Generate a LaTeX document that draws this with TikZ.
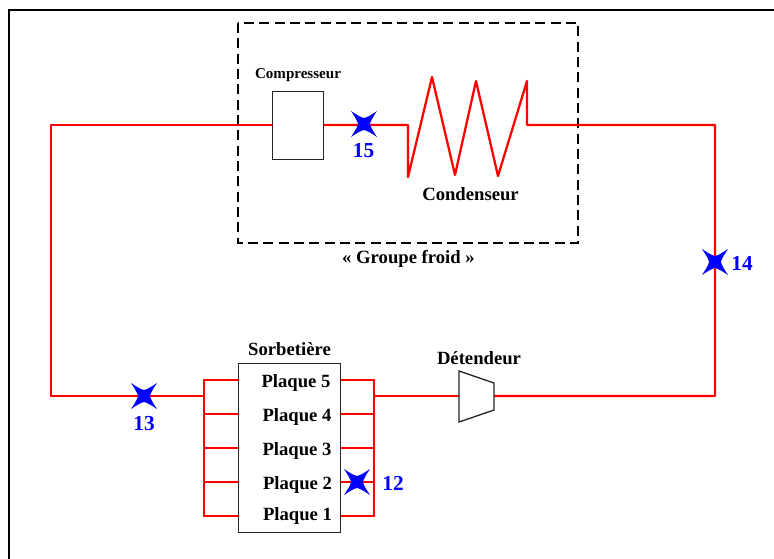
\documentclass[tikz,border=0pt]{standalone}
\usepackage{fontspec}
\setmainfont{Liberation Serif}
\tikzset{
  x=0.75pt,y=-0.75pt,
  wire/.style={draw=red,line width=1.7pt,line join=round,line cap=round},
  part/.style={draw=black!85,line width=1pt,fill=white,inner sep=0pt},
  lab/.style={font=\bfseries\fontsize{14}{16}\selectfont,inner sep=0pt,text=black},
  smalllab/.style={font=\bfseries\fontsize{11.3}{13}\selectfont,inner sep=0pt,text=black},
  num/.style={font=\bfseries\fontsize{16}{18}\selectfont,inner sep=0pt,text=blue},
  pics/xmark/.style={code={
    \fill[blue] (-13,-13) .. controls (-7,-9) and (-3,-6.5) .. (0,-6)
      .. controls (3,-6.5) and (7,-9) .. (13,-13)
      .. controls (9,-7) and (6.5,-3) .. (6,0)
      .. controls (6.5,3) and (9,7) .. (13,13)
      .. controls (7,9) and (3,6.5) .. (0,6)
      .. controls (-3,6.5) and (-7,9) .. (-13,13)
      .. controls (-9,7) and (-6.5,3) .. (-6,0)
      .. controls (-6.5,-3) and (-9,-7) .. (-13,-13) -- cycle;
  }}
}
\begin{document}
\begin{tikzpicture}
\useasboundingbox (0,0) rectangle (774,558);
% outer frame, cut by the page
\coordinate (fa) at (9,570);
\coordinate (fb) at (9,10);
\coordinate (fc) at (780,10);
\draw[black,line width=1.7pt,line join=miter] (fa) -- (fb) -- (fc);
% dashed group
\coordinate (ga) at (238,23);
\coordinate (gb) at (578,243);
\draw[black,line width=1.8pt,dash pattern=on 7.5pt off 4pt] (ga) rectangle (gb);
% coordinates
\coordinate (tl) at (51,125);
\coordinate (bl) at (51,396);
\coordinate (tr) at (715,125);
\coordinate (br) at (715,396);
\coordinate (c0) at (408,125);
\coordinate (c1) at (408,177);
\coordinate (c2) at (432,77);
\coordinate (c3) at (455,175);
\coordinate (c4) at (476,81);
\coordinate (c5) at (498,176);
\coordinate (c6) at (527,81);
\coordinate (c7) at (527,125);
\coordinate (lb1) at (204,380);
\coordinate (lb5) at (204,516);
\coordinate (rb1) at (374,380);
\coordinate (rb5) at (374,516);
\coordinate (ljoin) at (204,396);
\coordinate (rjoin) at (374,396);
\coordinate (vl) at (459,396);
\coordinate (vr) at (494,396);
% parts (nodes)
\node[part,minimum width=38.25pt,minimum height=51pt,anchor=north west] (comp) at (272,91) {};
\node[part,minimum width=76.5pt,minimum height=126.75pt,anchor=north west] (sorb) at (238,363) {};
% wires
\draw[wire] (bl) -- (tl) -- (comp.west |- tl);
\draw[wire] (comp.east |- tl) -- (c0) -- (c1) -- (c2) -- (c3) -- (c4) -- (c5) -- (c6) -- (c7) -- (tr) -- (br) -- (vr);
\draw[wire] (rjoin) -- (vl);
\draw[wire] (bl) -- (ljoin);
\draw[wire] (lb1) -- (lb5);
\draw[wire] (rb1) -- (rb5);
\foreach \y in {380,414,448,482,516}{
  \draw[wire] (204,\y) -- (sorb.west |- 0,\y);
  \draw[wire] (sorb.east |- 0,\y) -- (374,\y);
}
% valve
\coordinate (v1) at (459,371);
\coordinate (v2) at (494,383);
\coordinate (v3) at (494,410);
\coordinate (v4) at (459,422);
\draw[draw=black!85,line width=1pt,fill=white,line join=miter] (v1) -- (v2) -- (v3) -- (v4) -- cycle;
% markers
\pic at (364,124) {xmark};
\pic at (715,262) {xmark};
\pic at (144,396) {xmark};
\pic at (357,482) {xmark};
% labels
\node[num] (n15) at (363.5,150.5) {15};
\node[num] (n14) at (742,263.5) {14};
\node[num] (n13) at (144,423.5) {13};
\node[num] (n12) at (393,483.5) {12};
\node[smalllab] (lcomp) at (298,75) {Compresseur};
\node[lab] (lcond) at (470.5,194) {Condenseur};
\node[lab] (lgrp) at (408.5,259) {« Groupe froid »};
\node[lab] (lsorb) at (289.5,349) {Sorbetière};
\node[lab] (ldet) at (479,358) {Détendeur};
\node[lab] (p5) at (296,383) {Plaque 5};
\node[lab] (p4) at (297,417) {Plaque 4};
\node[lab] (p3) at (297,451) {Plaque 3};
\node[lab] (p2) at (297.5,485) {Plaque 2};
\node[lab] (p1) at (297.5,515.5) {Plaque 1};
\end{tikzpicture}
\end{document}
